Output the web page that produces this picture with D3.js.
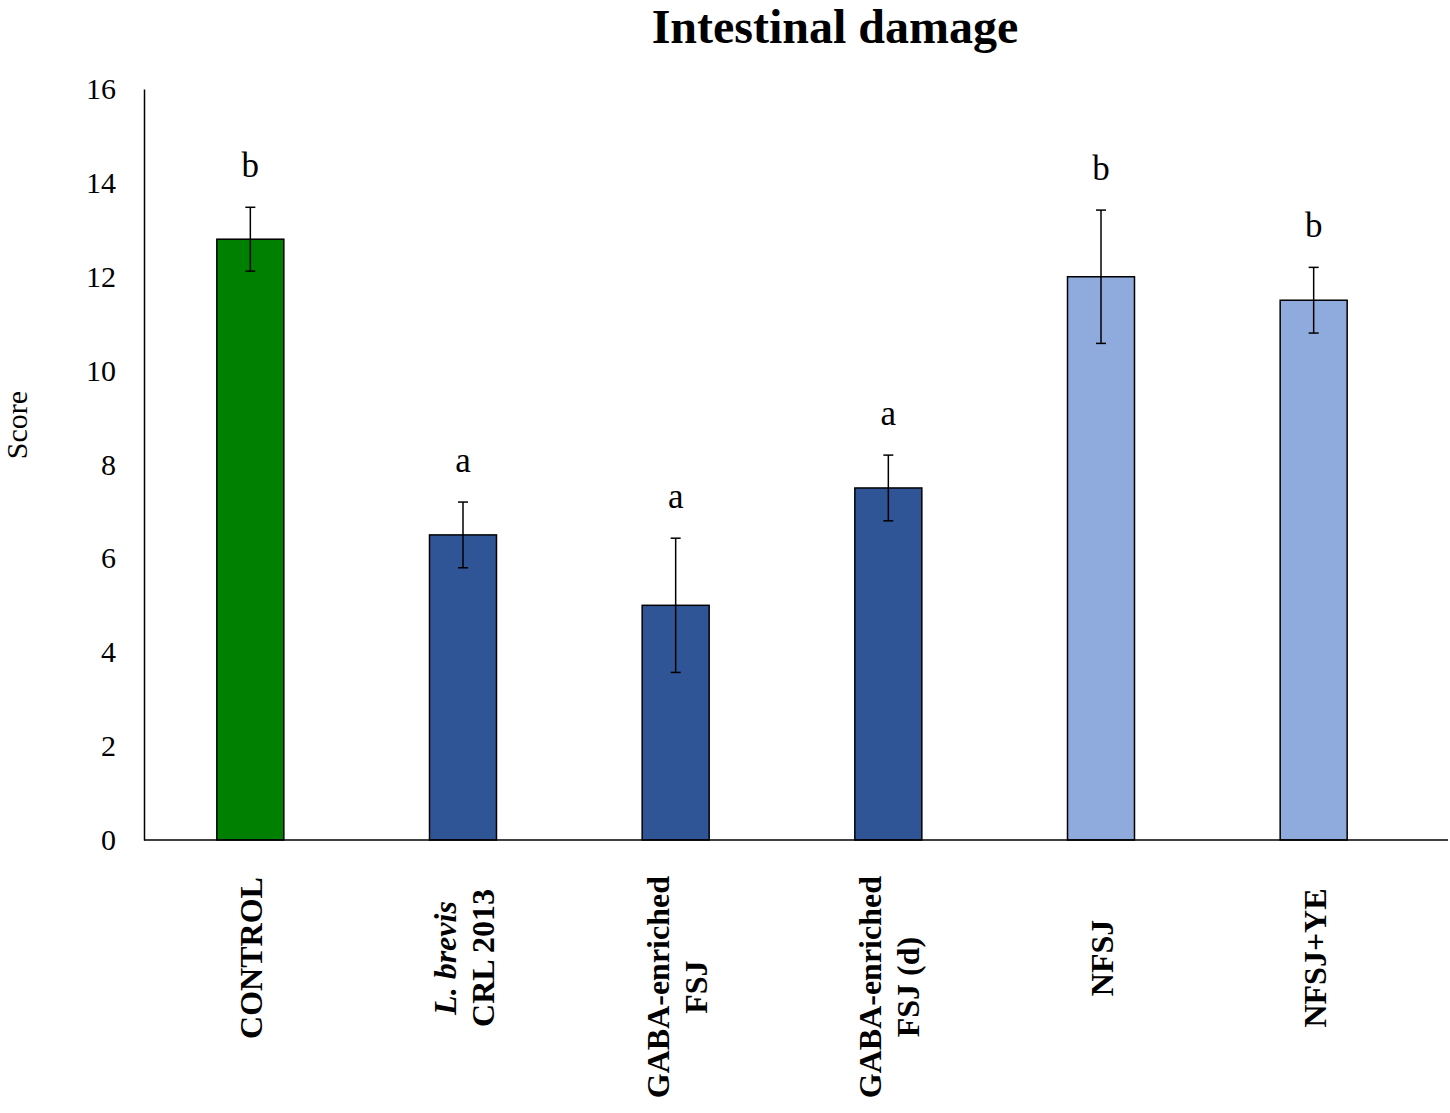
<!DOCTYPE html>
<html>
<head>
<meta charset="utf-8">
<script src="https://cdn.jsdelivr.net/npm/d3@7"></script>
<style>
  body { margin: 0; background: #fff; }
  svg { display: block; font-family: "Liberation Serif", "Times New Roman", serif; }
</style>
</head>
<body>
<div id="chart"></div>
<script>
// Data
const categories = ["CONTROL", "L. brevis CRL 2013", "GABA-enriched FSJ", "GABA-enriched FSJ (d)", "NFSJ", "NFSJ+YE"];
const labelLines = [["CONTROL"], ["L. brevis", "CRL 2013"], ["GABA-enriched", "FSJ"], ["GABA-enriched", "FSJ (d)"], ["NFSJ"], ["NFSJ+YE"]];
const italicLines = ["L. brevis"];
const scores = [12.8, 6.5, 5.0, 7.5, 12.0, 11.5];
const errors = [0.68, 0.7, 1.43, 0.7, 1.42, 0.7];
const letters = ["b", "a", "a", "a", "b", "b"];
const barColors = ["#008000", "#2F5597", "#2F5597", "#2F5597", "#8FAADC", "#8FAADC"];
const yTicks = [0, 2, 4, 6, 8, 10, 12, 14, 16];

const width = 1450;
const height = 1113;

const svg = d3.select("#chart")
    .append("svg")
    .attr("width", width)
    .attr("height", height);

const x = d3.scaleBand()
    .domain(categories)
    .range([144, 1420])
    .paddingInner(0.685)
    .paddingOuter(0.3425);

const y = d3.scaleLinear()
    .domain([0, 16])
    .range([840, 89]);

// Title
svg.append("text")
    .attr("x", 835)
    .attr("y", 43)
    .attr("text-anchor", "middle")
    .attr("font-size", "48px")
    .attr("font-weight", "bold")
    .text("Intestinal damage");

// Y axis label
svg.append("text")
    .attr("transform", "translate(27, 425) rotate(-90)")
    .attr("text-anchor", "middle")
    .attr("font-size", "30px")
    .text("Score");

// Y axis (no tick marks, just labels)
const yAxis = svg.append("g")
    .attr("transform", "translate(144, 0)")
    .call(d3.axisLeft(y).tickValues(yTicks).tickSize(0).tickPadding(28));
yAxis.select(".domain").attr("stroke", "#000").attr("stroke-width", 1.5);
yAxis.selectAll("text")
    .attr("font-family", "Liberation Serif, Times New Roman, serif")
    .attr("font-size", "30px")
    .attr("fill", "#000");

// Bars
svg.selectAll(".bar")
    .data(categories)
    .enter().append("rect")
    .attr("class", "bar")
    .attr("x", d => x(d))
    .attr("y", (d, i) => y(scores[i]))
    .attr("width", x.bandwidth())
    .attr("height", (d, i) => y(0) - y(scores[i]))
    .attr("fill", (d, i) => barColors[i])
    .attr("stroke", "#000")
    .attr("stroke-width", 1.5);

// X axis line, drawn after bars so it sits on top
svg.append("line")
    .attr("x1", 144).attr("x2", 1448)
    .attr("y1", y(0)).attr("y2", y(0))
    .attr("stroke", "#000")
    .attr("stroke-width", 1.5);

// Error bars
const errG = svg.selectAll(".err")
    .data(categories)
    .enter().append("g")
    .attr("class", "err")
    .attr("transform", d => `translate(${x(d) + x.bandwidth() / 2}, 0)`)
    .attr("stroke", "#000")
    .attr("stroke-width", 1.5);

errG.append("line")
    .attr("y1", (d, i) => y(scores[i] + errors[i]))
    .attr("y2", (d, i) => y(scores[i] - errors[i]));
errG.append("line")
    .attr("x1", -5).attr("x2", 5)
    .attr("y1", (d, i) => y(scores[i] + errors[i]))
    .attr("y2", (d, i) => y(scores[i] + errors[i]));
errG.append("line")
    .attr("x1", -5).attr("x2", 5)
    .attr("y1", (d, i) => y(scores[i] - errors[i]))
    .attr("y2", (d, i) => y(scores[i] - errors[i]));

// Significance letters
svg.selectAll(".letter")
    .data(categories)
    .enter().append("text")
    .attr("class", "letter")
    .attr("x", d => x(d) + x.bandwidth() / 2)
    .attr("y", (d, i) => y(scores[i] + errors[i]) - 30)
    .attr("text-anchor", "middle")
    .attr("font-size", "35px")
    .text((d, i) => letters[i]);

// Category labels, rotated, bold
const lineGap = 38;
const labels = svg.selectAll(".xlabel")
    .data(categories)
    .enter().append("g")
    .attr("class", "xlabel");

labels.each(function (d, i) {
    const g = d3.select(this);
    const lines = labelLines[i];
    const n = lines.length;
    lines.forEach((line, j) => {
        g.append("text")
            .attr("x", 0)
            .attr("y", (j - (n - 1) / 2) * lineGap + 12)
            .attr("text-anchor", "middle")
            .attr("font-size", "32px")
            .attr("font-weight", "bold")
            .attr("font-style", italicLines.includes(line) ? "italic" : "normal")
            .text(line);
    });
    let maxLen = 0;
    g.selectAll("text").each(function () {
        maxLen = Math.max(maxLen, this.getComputedTextLength());
    });
    const cy = Math.max(958, 876 + maxLen / 2);
    g.attr("transform", `translate(${x(d) + x.bandwidth() / 2}, ${cy}) rotate(-90)`);
});
</script>
</body>
</html>
